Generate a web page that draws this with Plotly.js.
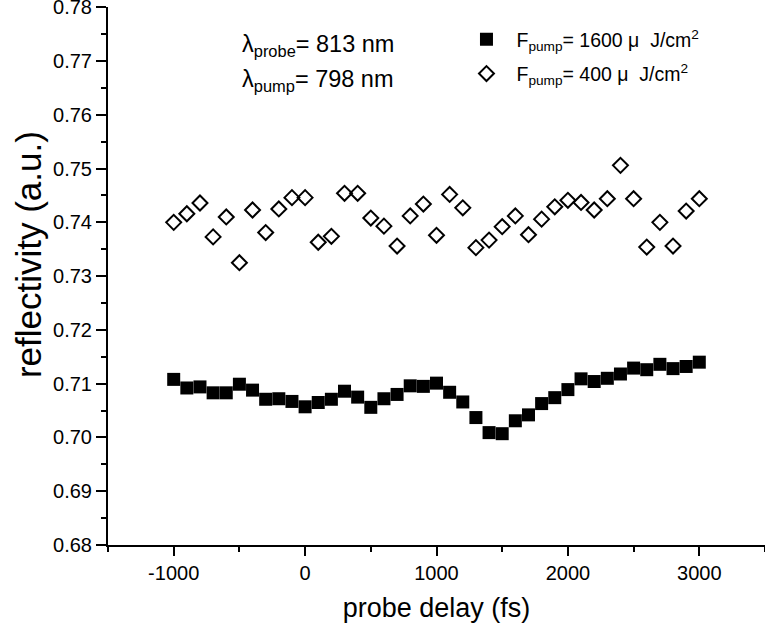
<!DOCTYPE html>
<html>
<head>
<meta charset="utf-8">
<script src="https://cdn.plot.ly/plotly-3.0.1.min.js"></script>
<style>html,body{margin:0;padding:0;background:#fff;}#chart{width:765px;height:630px;}</style>
</head>
<body>
<div id="chart"></div>
<script>
const delay = [-1000,-900,-800,-700,-600,-500,-400,-300,-200,-100,0,100,200,300,400,500,600,700,800,900,1000,1100,1200,1300,1400,1500,1600,1700,1800,1900,2000,2100,2200,2300,2400,2500,2600,2700,2800,2900,3000];
const refl1600 = [0.7108,0.7092,0.7094,0.7083,0.7083,0.7099,0.7088,0.7071,0.7072,0.7067,0.7057,0.7065,0.7071,0.7086,0.7075,0.7056,0.7072,0.7080,0.7096,0.7095,0.7101,0.7084,0.7066,0.7037,0.7009,0.7007,0.7031,0.7042,0.7063,0.7074,0.7089,0.7109,0.7104,0.7110,0.7118,0.7129,0.7126,0.7136,0.7128,0.7132,0.7140];
const refl400 = [0.7400,0.7416,0.7436,0.7373,0.7410,0.7325,0.7423,0.7381,0.7425,0.7446,0.7446,0.7363,0.7374,0.7454,0.7454,0.7408,0.7393,0.7356,0.7412,0.7434,0.7376,0.7452,0.7427,0.7353,0.7367,0.7392,0.7412,0.7377,0.7406,0.7429,0.7441,0.7437,0.7423,0.7444,0.7506,0.7444,0.7354,0.7400,0.7356,0.7421,0.7444];
const seriesNames = ["F<sub>pump</sub>= 1600 \u03bc\u00a0 J/cm<sup>2</sup>", "F<sub>pump</sub>= 400 \u03bc\u00a0 J/cm<sup>2</sup>"];
const xTickVals = [-1000,0,1000,2000,3000];
const yTickVals = [0.68,0.69,0.70,0.71,0.72,0.73,0.74,0.75,0.76,0.77,0.78];

const traces = [
  {x: delay, y: refl1600, name: seriesNames[0], legendgroup: 'a', mode: 'markers', type: 'scatter',
   marker: {symbol: 'square', size: 13, color: '#000'}},
  {x: delay, y: refl400, name: seriesNames[1], legendgroup: 'b', mode: 'markers', type: 'scatter',
   marker: {symbol: 'diamond-open', size: 11.5, color: '#000', line: {width: 2, color: '#000'}}}
];

const FF = 'Liberation Sans, Arial, sans-serif';
const layout = {
  width: 765, height: 630,
  margin: {l: 108, r: 0, t: 7, b: 85},
  paper_bgcolor: '#fff', plot_bgcolor: '#fff',
  font: {family: FF, color: '#000'},
  showlegend: true,
  legend: {x: 0.5304, y: 0.9758, xanchor: 'left', yanchor: 'top', bgcolor: 'rgba(0,0,0,0)',
           traceorder: 'grouped', tracegroupgap: 6, itemwidth: 50,
           font: {family: FF, size: 19.5, color: '#000'}},
  xaxis: {range: [-1500, 3500], tickvals: xTickVals, ticktext: xTickVals.map(String),
          showgrid: false, zeroline: false, showline: true, linecolor: '#000', linewidth: 2,
          ticks: 'outside', ticklen: 9, tickwidth: 2, tickcolor: '#000',
          ticklabeloverflow: 'allow',
          minor: {dtick: 500, tick0: -1500, ticks: 'outside', ticklen: 5, tickwidth: 2, tickcolor: '#000', showgrid: false},
          tickfont: {family: FF, size: 20, color: '#000'},
          title: {text: 'probe delay (fs)', font: {family: FF, size: 27, color: '#000'}, standoff: 15}},
  yaxis: {range: [0.68, 0.78005], tickvals: yTickVals, ticktext: yTickVals.map(v => v.toFixed(2)),
          showgrid: false, zeroline: false, showline: true, linecolor: '#000', linewidth: 2,
          ticks: 'outside', ticklen: 10, tickwidth: 2, tickcolor: '#000', ticklabelstandoff: 0,
          ticklabeloverflow: 'allow',
          minor: {dtick: 0.005, tick0: 0.68, ticks: 'outside', ticklen: 5, tickwidth: 2, tickcolor: '#000', showgrid: false},
          tickfont: {family: FF, size: 20, color: '#000'}},
  annotations: [
    {xref: 'paper', yref: 'paper', x: -(108-28)/658, y: (545-255)/538, xanchor: 'center', yanchor: 'middle',
     showarrow: false, textangle: -90, text: 'reflectivity (a.u.)', font: {family: FF, size: 35, color: '#000'}},
    {xref: 'paper', yref: 'paper', x: (240-108)/658, y: (545-46)/538, xanchor: 'left', yanchor: 'middle', showarrow: false,
     text: '\u03bb<sub>probe</sub>= 813 nm', font: {family: FF, size: 23.5, color: '#000'}},
    {xref: 'paper', yref: 'paper', x: (240-108)/658, y: (545-80)/538, xanchor: 'left', yanchor: 'middle', showarrow: false,
     text: '\u03bb<sub>pump</sub>= 798 nm', font: {family: FF, size: 23.5, color: '#000'}}
  ]
};
Plotly.newPlot('chart', traces, layout, {displayModeBar: false, staticPlot: true});
</script>
</body>
</html>
